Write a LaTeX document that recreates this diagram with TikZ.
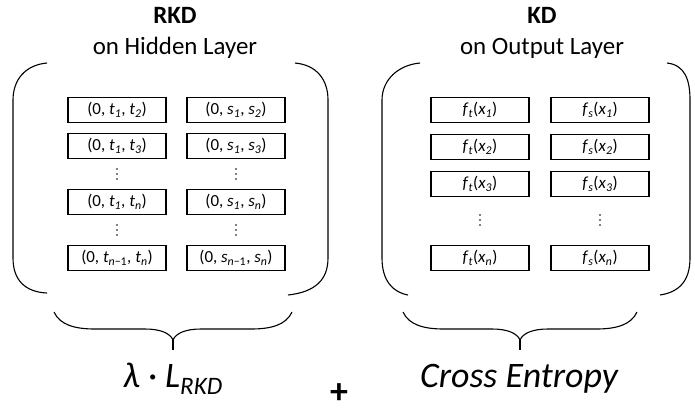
\documentclass[tikz,border=0pt]{standalone}
\usepackage{fontspec}
\setmainfont{Carlito}
\newcommand\vr[2]{\textit{#1}\textsubscript{\textit{#2}}}
\begin{document}
\begin{tikzpicture}[x=1bp,y=-1bp,
  cell/.style={draw, line width=1.5bp, minimum width=98bp, minimum height=25bp,
    inner sep=0pt, font=\fontsize{17}{19}\selectfont},
  vdot/.style={inner sep=0pt, minimum width=6bp, minimum height=16bp,
    path picture={
      \fill (path picture bounding box.center) ++(0,-5) circle (0.9bp)
            (path picture bounding box.center) circle (0.9bp)
            (path picture bounding box.center) ++(0,5) circle (0.9bp);}},
  title/.style={font=\fontsize{25}{28}\selectfont, anchor=base},
  bracket/.style={line width=1.1bp},
  result/.style={font=\fontsize{36}{40}\selectfont\itshape, anchor=base}]
\useasboundingbox (0,0) rectangle (695,415);

% headings
\node[title, font=\fontsize{25}{28}\selectfont\bfseries] (rkdA) at (175,23) {RKD};
\node[title] (rkdB) at (175,54) {on Hidden Layer};
\node[title, font=\fontsize{25}{28}\selectfont\bfseries] (kdA) at (542,23) {KD};
\node[title] (kdB) at (542,54) {on Output Layer};

% hidden-layer relations
\node[cell] (t12) at (117,110) {(0, \vr{t}{1}, \vr{t}{2})};
\node[cell] (s12) at (236,110) {(0, \vr{s}{1}, \vr{s}{2})};
\node[cell] (t13) at (117,146) {(0, \vr{t}{1}, \vr{t}{3})};
\node[cell] (s13) at (236,146) {(0, \vr{s}{1}, \vr{s}{3})};
\node[vdot] (dt1) at (117,174) {};
\node[vdot] (ds1) at (236,174) {};
\node[cell] (t1n) at (117,202) {(0, \vr{t}{1}, \vr{t}{n})};
\node[cell] (s1n) at (236,202) {(0, \vr{s}{1}, \vr{s}{n})};
\node[vdot] (dt2) at (117,230) {};
\node[vdot] (ds2) at (236,230) {};
\node[cell] (tnn) at (117,258) {(0, \textit{t}\textsubscript{\textit{n}\textminus1}, \vr{t}{n})};
\node[cell] (snn) at (236,258) {(0, \textit{s}\textsubscript{\textit{n}\textminus1}, \vr{s}{n})};

% output-layer values
\node[cell] (ft1) at (480,110) {\vr{f}{t}(\vr{x}{1})};
\node[cell] (fs1) at (600,110) {\vr{f}{s}(\vr{x}{1})};
\node[cell] (ft2) at (480,147) {\vr{f}{t}(\vr{x}{2})};
\node[cell] (fs2) at (600,147) {\vr{f}{s}(\vr{x}{2})};
\node[cell] (ft3) at (480,184) {\vr{f}{t}(\vr{x}{3})};
\node[cell] (fs3) at (600,184) {\vr{f}{s}(\vr{x}{3})};
\node[vdot] (dft) at (480,220) {};
\node[vdot] (dfs) at (600,220) {};
\node[cell] (ftn) at (480,258) {\vr{f}{t}(\vr{x}{n})};
\node[cell] (fsn) at (600,258) {\vr{f}{s}(\vr{x}{n})};

% round brackets around each group
\draw[bracket] (47,63) .. controls (25,65) and (13,80) .. (13,100) -- (13,258)
  .. controls (13,280) and (25,292) .. (47,293);
\draw[bracket] (295,63) .. controls (317,65) and (328,80) .. (328,100) -- (328,258)
  .. controls (328,280) and (315,292) .. (288,295);
\draw[bracket] (420,63) .. controls (398,65) and (382,80) .. (382,100) -- (382,258)
  .. controls (382,280) and (392,292) .. (408,295);
\draw[bracket] (667,63) .. controls (685,65) and (690,80) .. (690,100) -- (690,258)
  .. controls (690,280) and (680,292) .. (660,295);

% underbraces
\coordinate (bl1) at (54,312);
\coordinate (tip1) at (173,340);
\coordinate (br1) at (292,312);
\draw[bracket] (bl1) .. controls (60,325) and (75,329) .. (95,329) -- (145,329)
  .. controls (160,329) and (170,333) .. (tip1)
  .. controls (176,333) and (186,329) .. (201,329) -- (251,329)
  .. controls (271,329) and (286,325) .. (br1);
\draw[bracket] (tip1) -- (173,350);
\coordinate (bl2) at (403,312);
\coordinate (tip2) at (520,340);
\coordinate (br2) at (637,312);
\draw[bracket] (bl2) .. controls (409,325) and (424,329) .. (444,329) -- (492,329)
  .. controls (507,329) and (517,333) .. (tip2)
  .. controls (523,333) and (533,329) .. (548,329) -- (596,329)
  .. controls (616,329) and (631,325) .. (br2);
\draw[bracket] (tip2) -- (520,350);

% loss terms
\node[result] (lrkd) at (173,387) {λ · L\textsubscript{RKD}};
\node[font=\fontsize{36}{40}\selectfont\bfseries, inner sep=0pt] (plus) at (339,394) {+};
\node[result] (ce) at (519,387) {Cross Entropy};
\end{tikzpicture}
\end{document}
